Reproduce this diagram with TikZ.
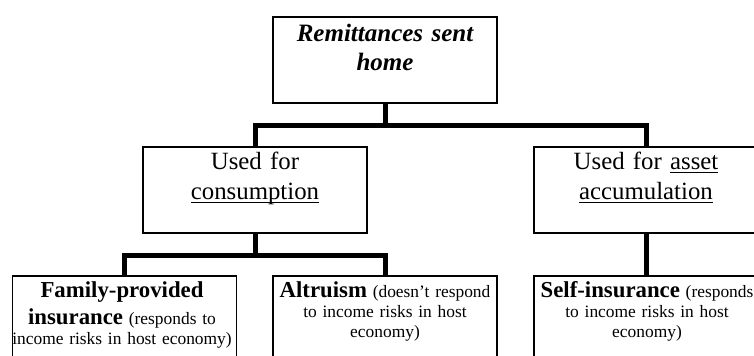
\documentclass[tikz,border=0pt]{standalone}
\usepackage{fontspec}
\setmainfont{Liberation Serif}
\usetikzlibrary{calc}
% underline at a fixed depth, like the word processor does
\newcommand\uln[1]{\setbox0\hbox{#1}\dp0=0pt\underline{\box0}}
\newcommand\bw[1]{{\fontsize{11.4}{10}\selectfont\bfseries #1}}
\lineskiplimit=-20pt
\tikzset{
  box/.style={draw, line width=0.75pt, minimum width=112pt, minimum height=43pt, inner sep=0pt},
  link/.style={line width=2.5pt, line join=miter},
  txt/.style={text width=#1, align=center, anchor=base, inner sep=0pt},
  bigtxt/.style={txt=100pt, font=\fontsize{12.4}{15}\selectfont},
  smalltxt/.style={txt=116pt, font=\fontsize{8.7}{10}\selectfont}
}
\begin{document}
\begin{tikzpicture}[x=0.5pt,y=-0.5pt]
  \useasboundingbox (0,0) rectangle (754,356);
  \clip (0,0) rectangle (754,356);
  % boxes
  \node[box] (home) at (385,60) {};
  \node[box] (cons) at (255,190) {};
  \node[box] (asset) at (646,190) {};
  \node[box] (family) at (124.5,319) {};
  \node[box] (altru) at (385,319) {};
  \node[box] (self) at (646,319) {};
  % connectors
  \draw[link] (home.south) -- ++(0,22) -| (cons.north);
  \draw[link] (home.south) -- ++(0,22) -| (asset.north);
  \draw[link] (cons.south) -- ++(0,22) -| (family.north);
  \draw[link] (cons.south) -- ++(0,22) -| (altru.north);
  \draw[link] (asset.south) -- (self.north);
  % texts
  \node[txt=100pt, font=\fontsize{12.5}{14.5}\selectfont\bfseries\itshape] (homet) at (385,42)
    {Remittances sent\\home};
  \node[bigtxt] (const) at (255,170) {Used for\\\uln{consumption}};
  \node[bigtxt] (assett) at (646,170) {Used for \uln{asset}\\\uln{accumulation}};
  \node[smalltxt] (familyt) at (122,298)
    {\bw{Family-provided}\\[2pt]\bw{insurance} (responds to\\income risks in host economy)};
  \node[smalltxt] (altrut) at (385,298)
    {\bw{Altruism} (doesn’t respond\\to income risks in host\\economy)};
  \node[smalltxt] (selft) at (647,298)
    {\bw{Self-insurance} (responds\\to income risks in host\\economy)};
\end{tikzpicture}
\end{document}
